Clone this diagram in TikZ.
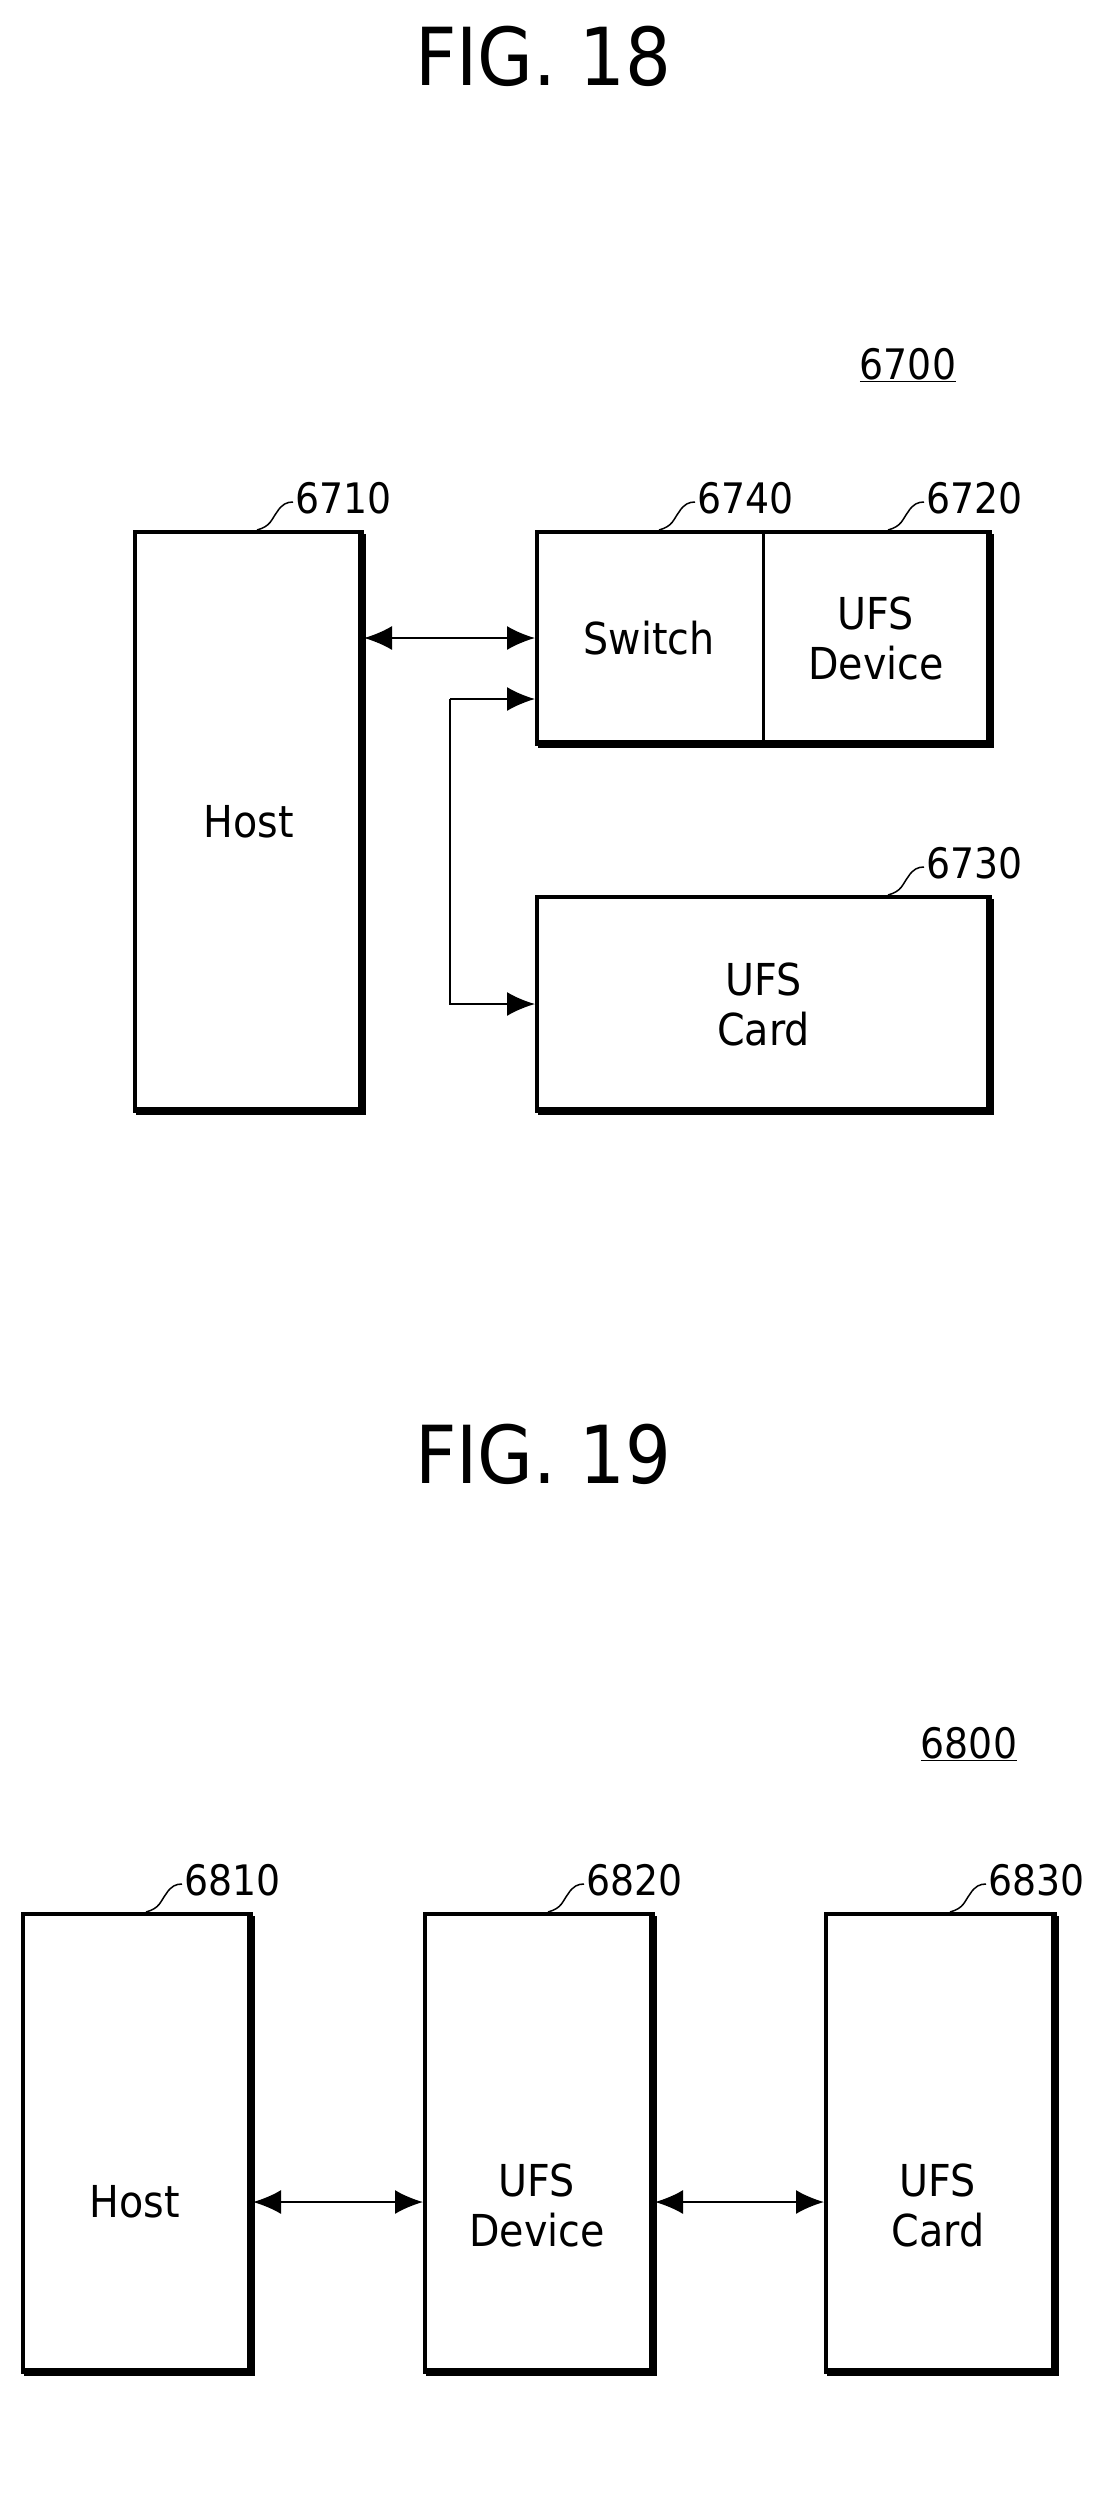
\documentclass[tikz,border=0pt]{standalone}
\usepackage{fontspec}
\setmainfont{DejaVu Sans Condensed}
\usetikzlibrary{arrows.meta}
\begin{document}
\begin{tikzpicture}[x=1pt,y=-1pt,
  box/.style={draw,line width=4pt},
  lbl/.style={font=\fontsize{44}{50}\selectfont,inner sep=0pt},
  ref/.style={font=\fontsize{42}{46}\selectfont,inner sep=0pt,anchor=south west},
  ttl/.style={font=\fontsize{80}{90}\selectfont,inner sep=0pt},
  conn/.style={line width=2pt,{Latex[length=28pt,width=24pt]}-{Latex[length=28pt,width=24pt]}},
  conn1/.style={line width=2pt,-{Latex[length=28pt,width=24pt]}},
  lead/.style={line width=1.5pt}]
\useasboundingbox (0,0) rectangle (1093,2517);
\newcommand{\shbox}[5]{% name, x1,y1,x2,y2
  \draw[line width=8pt] (#4+2,#3+4) -- (#4+2,#5+2) -- (#2+3,#5+2);
  \node[box,minimum width=#4-#2,minimum height=#5-#3,anchor=north west,inner sep=0pt] (#1) at (#2,#3) {};}
\newcommand{\leader}[4]{% x,y (box top), name, text
  \node[ref] (#3) at (#1+38,#2-16) {#4};
  \draw[lead] (#1,#2) .. controls (#1+14,#2-4) and (#1+14,#2-10) .. (#1+20,#2-18) .. controls (#1+25,#2-26) and (#1+30,#2-28) .. (#1+36,#2-28);}
% FIG 18
\node[ttl] (t18) at (543,56) {FIG. 18};
\node[lbl,font=\fontsize{42}{46}\selectfont] (n6700) at (908,365) {\underline{6700}};
\shbox{host}{133}{530}{360}{1109}
\node[lbl] (hostt) at (host.center) {Host};
\shbox{sw}{535}{530}{988}{742}
\draw[line width=3pt] (763,530) coordinate (dtop) -- (763,742) coordinate (dbot);
\node[lbl] (swt) at (649,638) {Switch};
\node[lbl,align=center] (devt) at (876,638) {UFS\\Device};
\shbox{card}{535}{895}{988}{1109}
\node[lbl,align=center] (cardt) at (card.center) {UFS\\Card};
\draw[conn] (host.east |- 0,638) -- (sw.west |- 0,638);
\coordinate (b1) at (450,699);
\coordinate (b2) at (450,1004);
\draw[conn1] (b1) -- (sw.west |- b1);
\draw[conn1] (b1) -- (b2) -- (card.west |- b2);
\leader{257}{530}{r6710}{6710}
\leader{659}{530}{r6740}{6740}
\leader{888}{530}{r6720}{6720}
\leader{888}{895}{r6730}{6730}
% FIG 19
\node[ttl] (t19) at (543,1454) {FIG. 19};
\node[lbl,font=\fontsize{42}{46}\selectfont] (n6800) at (969,1744) {\underline{6800}};
\shbox{h2}{21}{1912}{249}{2370}
\node[lbl] (h2t) at (135,2202) {Host};
\shbox{d2}{423}{1912}{651}{2370}
\node[lbl,align=center] (d2t) at (537,2205) {UFS\\Device};
\shbox{c2}{824}{1912}{1053}{2370}
\node[lbl,align=center] (c2t) at (938,2205) {UFS\\Card};
\draw[conn] (h2.east |- 0,2202) -- (d2.west |- 0,2202);
\draw[conn] (d2.east |- 0,2202) -- (c2.west |- 0,2202);
\leader{146}{1912}{r6810}{6810}
\leader{548}{1912}{r6820}{6820}
\leader{950}{1912}{r6830}{6830}
\end{tikzpicture}
\end{document}
